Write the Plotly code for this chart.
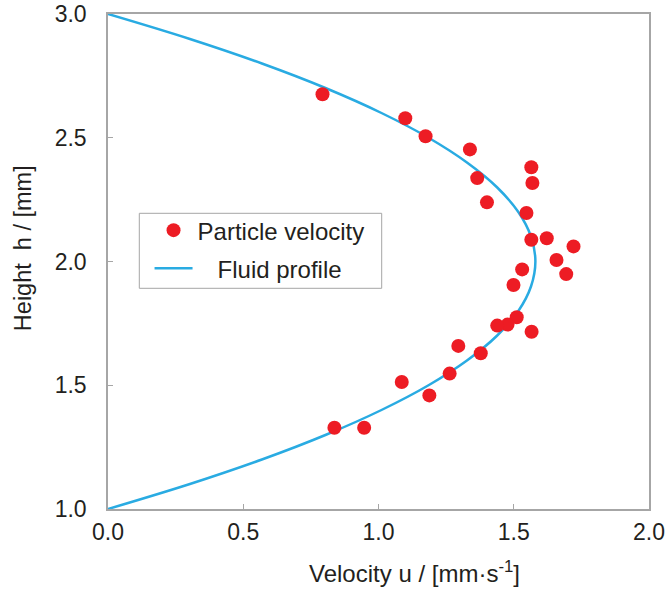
import plotly.graph_objects as go

# Particle velocity measurements (u in mm/s, h in mm)
particle_u = [0.793, 1.099, 1.174, 1.338, 1.565, 1.365, 1.569, 1.401, 1.547,
              1.565, 1.622, 1.721, 1.658, 1.531, 1.694, 1.499, 1.511, 1.477,
              1.439, 1.566, 1.295, 1.378, 1.086, 1.188, 1.263, 0.837, 0.947]
particle_h = [2.676, 2.579, 2.506, 2.453, 2.381, 2.337, 2.317, 2.239, 2.196,
              2.088, 2.094, 2.061, 2.006, 1.968, 1.949, 1.905, 1.775, 1.745,
              1.741, 1.716, 1.659, 1.629, 1.513, 1.459, 1.547, 1.328, 1.328]

# Fluid profile
profile_h = [1.0, 1.1, 1.2, 1.3, 1.4, 1.5, 1.6, 1.7, 1.8, 1.9, 2.0,
             2.1, 2.2, 2.3, 2.4, 2.5, 2.6, 2.7, 2.8, 2.9, 3.0]
profile_u = [0.0, 0.300, 0.569, 0.806, 1.011, 1.185, 1.327, 1.438, 1.517, 1.564, 1.580,
             1.564, 1.517, 1.438, 1.327, 1.185, 1.011, 0.806, 0.569, 0.300, 0.0]

x_ticks = [0.0, 0.5, 1.0, 1.5, 2.0]
y_ticks = [1.0, 1.5, 2.0, 2.5, 3.0]

RED = "#ED1C24"
BLUE = "#29ABE2"
GRAY = "#A6A6A6"
TXT = "#231F20"
FONT = "Liberation Sans, Arial, sans-serif"

fig = go.Figure()
fig.add_trace(go.Scatter(
    x=profile_u, y=profile_h, mode="lines",
    name="\u00a0\u00a0\u00a0Fluid profile", legendgroup="b", legendrank=2,
    line=dict(color=BLUE, width=2.5, shape="spline"),
))
fig.add_trace(go.Scatter(
    x=particle_u, y=particle_h, mode="markers",
    name="Particle velocity", legendgroup="a", legendrank=1,
    marker=dict(color=RED, size=14, line=dict(width=0)),
))

axis_common = dict(
    showgrid=False, zeroline=False, showline=True, linecolor=GRAY, linewidth=1.5,
    mirror=True, ticks="inside", ticklen=5, tickcolor=GRAY, tickwidth=1,
    tickfont=dict(family=FONT, size=23, color=TXT), automargin=False,
)

fig.update_layout(
    width=670, height=590,
    margin=dict(l=108, r=21, t=14, b=81),
    paper_bgcolor="white", plot_bgcolor="white",
    font=dict(family=FONT, color=TXT),
    showlegend=True,
    legend=dict(
        x=0.0768, y=0.608, xanchor="left", yanchor="top",
        traceorder="grouped",
        borderwidth=0, bgcolor="rgba(0,0,0,0)",
        font=dict(family=FONT, size=24, color=TXT),
        itemwidth=38, tracegroupgap=4,
    ),
    shapes=[dict(
        type="rect", xref="paper", yref="paper",
        x0=(139.3 - 108) / 541, x1=(381.7 - 108) / 541,
        y0=(509 - 288.3) / 495, y1=(509 - 213.3) / 495,
        line=dict(color=GRAY, width=1), fillcolor="white", layer="below",
    )],
    xaxis=dict(
        range=[0, 2.0], tickvals=x_ticks, ticktext=[f"{v:.1f}" for v in x_ticks],
        ticklabelstandoff=2,
        **axis_common,
    ),
    yaxis=dict(
        range=[1.0, 3.0], tickvals=y_ticks, ticktext=[f"{v:.1f}" for v in y_ticks],
        ticklabelstandoff=15,
        **axis_common,
    ),
    annotations=[
        dict(text="Velocity u / [mm·s<sup>-1</sup>]", xref="paper", yref="paper",
             x=0.567, y=-0.127, xanchor="center", yanchor="middle", showarrow=False,
             font=dict(family=FONT, size=24, color=TXT)),
        dict(text="Height\u00a0 h / [mm]", xref="paper", yref="paper",
             x=-0.158, y=0.526, xanchor="center", yanchor="middle", showarrow=False,
             textangle=-90, font=dict(family=FONT, size=23.5, color=TXT)),
    ],
)

fig.write_html("out.html")
